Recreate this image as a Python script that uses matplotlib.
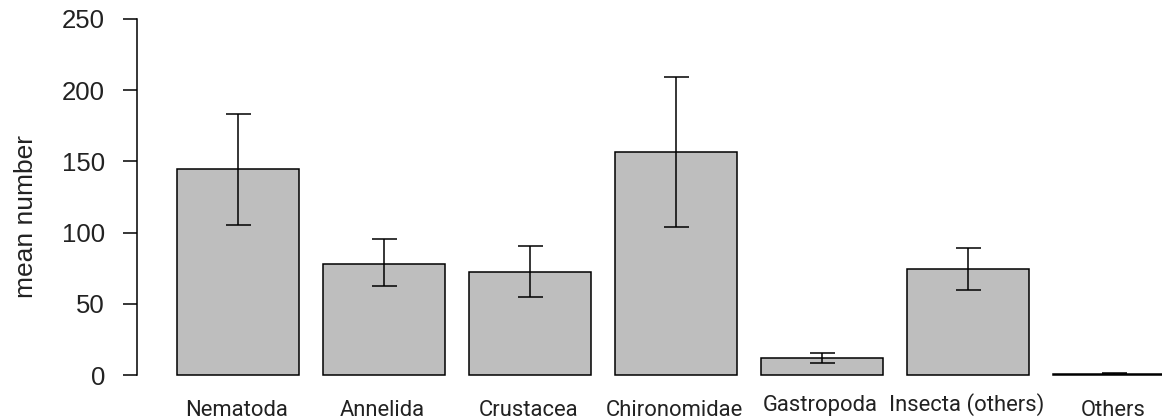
import numpy as np
import matplotlib
matplotlib.use("Agg")
import matplotlib.pyplot as plt
from matplotlib import transforms

# mean numbers per taxon, with the ends of the error bars
taxa = ['Nematoda', 'Annelida', 'Crustacea', 'Chironomidae',
        'Gastropoda', 'Insecta (others)', 'Others']
means = [144.4, 78.2, 72.1, 156.4, 12.2, 74.4, 0.8]
err_lo = [105.3, 62.3, 54.8, 103.7, 8.2, 59.7, 0.4]
err_hi = [183.3, 95.3, 90.6, 209.0, 15.7, 89.1, 1.2]
yticks = [0, 50, 100, 150, 200, 250]


def main():
    fig = plt.figure(figsize=(11.62, 4.19), dpi=100)
    ax = fig.add_axes([137/1162, 44/419, 1 - 137/1162, 356/419])

    # R barplot layout: width 1, space 0.2
    x = 0.2 + 1.2*np.arange(len(taxa)) + 0.5
    m = np.array(means)
    yerr = np.vstack([m - np.array(err_lo), np.array(err_hi) - m])

    ax.bar(x, m, width=1.0, color='#bebebe', edgecolor='black',
           linewidth=1.1, clip_on=False, zorder=2)
    ax.errorbar(x, m, yerr=yerr, fmt='none', ecolor='black',
                elinewidth=1.1, capsize=9, capthick=1.1, zorder=3,
                clip_on=False)

    ax.set_xlim(-0.129, 8.293)
    ax.set_ylim(0, 250)

    for s in ['top', 'right', 'bottom']:
        ax.spines[s].set_visible(False)
    ax.spines['left'].set_bounds(0, 250)
    ax.spines['left'].set_linewidth(1.1)

    ax.set_yticks(yticks)
    ax.set_yticklabels([str(v) for v in yticks], fontsize=18.5,
                       family='Liberation Sans', color='#222222')
    ax.tick_params(axis='y', length=10, width=1.1, pad=13)
    ax.set_xticks([])

    ax.set_ylabel('mean number', fontsize=19, family='Liberation Sans',
                  color='#222222')
    ax.yaxis.set_label_coords((38 - 137)/1025, (375 - 217)/356)

    # category labels; two of them sit a little higher in the original
    raise_px = [0, 0, 0, 0, 5, 5, 0]
    trans = transforms.blended_transform_factory(ax.transData, ax.transAxes)
    for xi, name, r in zip(x, taxa, raise_px):
        ax.annotate(name, xy=(xi, 0), xycoords=trans,
                    xytext=(-1, -(41 - r)*0.72), textcoords='offset points',
                    ha='center', va='baseline', fontsize=15.8,
                    family='Roboto', color='#222222', annotation_clip=False)

    fig.savefig('out.png', dpi=100)


if __name__ == "__main__":
    main()
